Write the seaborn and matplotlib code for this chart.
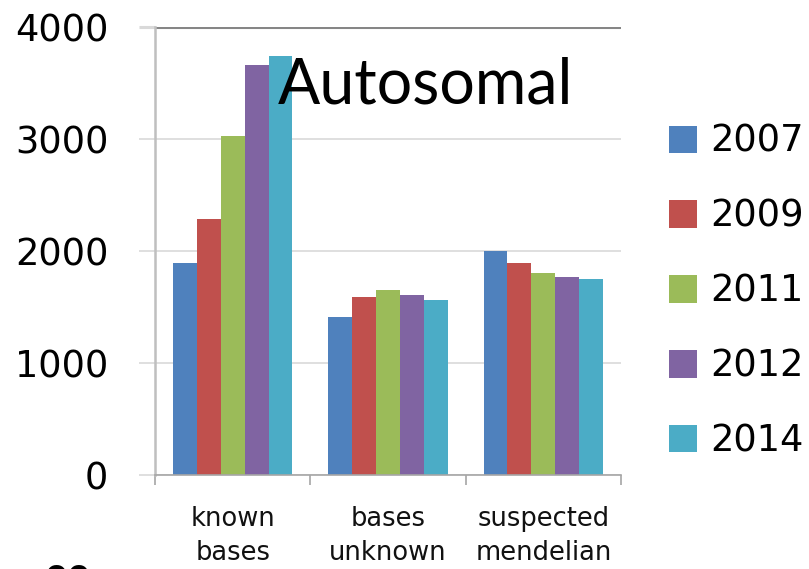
import matplotlib
matplotlib.use("Agg")
import matplotlib.pyplot as plt
import seaborn as sns
import pandas as pd

# Chart data
categories = ["known\nbases", "bases\nunknown", "suspected\nmendelian"]
years = ["2007", "2009", "2011", "2012", "2014"]
v2007 = [1890, 1410, 2000]
v2009 = [2290, 1590, 1890]
v2011 = [3030, 1650, 1800]
v2012 = [3660, 1610, 1770]
v2014 = [3740, 1560, 1750]
y_ticks = [0, 1000, 2000, 3000, 4000]
title = "Autosomal"

colors = ["#4F81BD", "#C0504D", "#9BBB59", "#8064A2", "#4BACC6"]

series = [v2007, v2009, v2011, v2012, v2014]
rows = []
for yr, vals in zip(years, series):
    for cat, v in zip(categories, vals):
        rows.append({"category": cat, "year": yr, "count": v})
df = pd.DataFrame(rows)

sns.set_style("white")
plt.rcParams["font.family"] = ["DejaVu Sans"]
plt.rcParams["text.color"] = "black"
plt.rcParams["xtick.color"] = "black"
plt.rcParams["ytick.color"] = "black"

W, H = 809, 569
fig = plt.figure(figsize=(W / 100, H / 100), dpi=100)
left, right, bottom, top = 155, 621, 475, 27
ax = fig.add_axes([left / W, 1 - bottom / H, (right - left) / W, (bottom - top) / H])

sns.barplot(data=df, x="category", y="count", hue="year", order=categories,
            hue_order=years, palette=colors, width=0.77, saturation=1,
            linewidth=0, ax=ax)

ax.set_xlim(-0.5, 2.5)
ax.set_ylim(0, 4000)
ax.set_xlabel("")
ax.set_ylabel("")

# y axis: gridlines and outward ticks in light gray
ax.set_yticks(y_ticks)
ax.set_yticklabels([str(t) for t in y_ticks], fontsize=26.5, color="black")
ax.yaxis.grid(True, color="#D9D9D9", linewidth=1.2)
ax.set_axisbelow(True)
ax.tick_params(axis="y", length=11.5, width=1.2, color="#D9D9D9", pad=22,
               left=True, labelcolor="black")
top_tick = ax.yaxis.get_major_ticks()[-1]
top_tick.tick1line.set_color("#868686")
top_tick.tick1line.set_markeredgewidth(2.2)
top_tick.gridline.set_color("#868686")
top_tick.gridline.set_linewidth(2.2)

# x axis: ticks at category boundaries, labels centred on categories
ax.set_xticks([-0.5, 0.5, 1.5, 2.5])
ax.set_xticklabels([""] * 4)
ax.set_xticks([0, 1, 2], minor=True)
ax.set_xticklabels(categories, minor=True, fontsize=18.5, linespacing=1.4,
                   color="#111111")
ax.tick_params(axis="x", which="major", length=7.5, width=1.2,
               color="#A6A6A6", bottom=True)
ax.tick_params(axis="x", which="minor", length=0, pad=22)

for side in ["top", "right"]:
    ax.spines[side].set_visible(False)
ax.spines["left"].set_color("#BFBFBF")
ax.spines["left"].set_linewidth(1.8)
ax.spines["bottom"].set_color("#A6A6A6")
ax.spines["bottom"].set_linewidth(1.2)

# Legend to the right of the plot
handles, labels = ax.get_legend_handles_labels()
leg = ax.legend(handles, labels, loc="upper left",
                bbox_to_anchor=(669 / W, 1 - 123 / H),
                bbox_transform=fig.transFigure, frameon=False, fontsize=26.5,
                handlelength=0.76, handleheight=0.76, handletextpad=0.35,
                labelspacing=1.03, borderpad=0, borderaxespad=0)
for t in leg.get_texts():
    t.set_color("black")

fig.text(278 / W, 1 - 103 / H, title, fontsize=45, family="Lato",
         ha="left", va="baseline", color="black")

fig.text(44 / W, 1 - 590 / H, "00", fontsize=24, fontweight="bold",
         ha="left", va="baseline", color="black")

fig.savefig("out.png", dpi=100)
